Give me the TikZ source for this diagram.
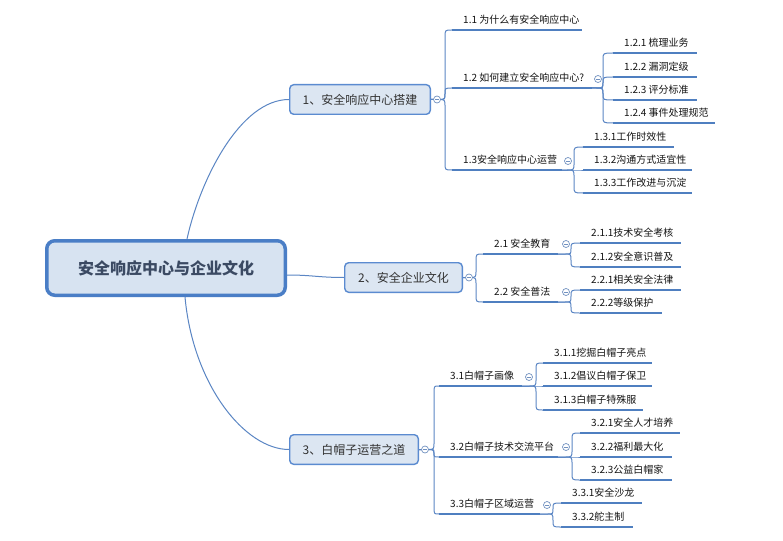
\documentclass[tikz,border=0pt]{standalone}
\usepackage{fontspec}
\setmainfont{Noto Sans CJK SC}
\usetikzlibrary{calc}
\pgfdeclarelayer{bg}
\pgfdeclarelayer{paper}
\pgfsetlayers{paper,bg,main}
\definecolor{lineblue}{HTML}{4F7FC0}
\definecolor{connblue}{HTML}{5B86C4}
\definecolor{boxfill}{HTML}{DCE6F2}
\definecolor{boxdraw}{HTML}{5B8BD0}
\definecolor{rootdraw}{HTML}{4A7EC6}
\definecolor{rootfill}{HTML}{D7E3F1}
\definecolor{roottext}{HTML}{3B4A63}
\definecolor{circdraw}{HTML}{7191C0}
\definecolor{leaftext}{HTML}{141414}
\newcommand\leaf[5]{%
  \node[leaf] (#1) at (#2,#3) {#5};
  \draw[uline] (#1.south west) -- ++(#4,0) coordinate (#1-e);}
\newcommand\fold[3]{%
  \node[fold] (#1) at (#2,#3) {};
  \draw[draw=circdraw, line width=0.7pt] ($(#1)+(-1.8,0)$) -- ($(#1)+(1.8,0)$);}
\begin{document}
\begin{tikzpicture}[x=1pt,y=-1pt,
  leaf/.style={anchor=south west, inner xsep=11pt, inner ysep=3pt, text height=8pt, text depth=3pt,
    font=\fontsize{10}{12}\selectfont, text=leaftext},
  uline/.style={draw=lineblue, line width=2.7pt},
  conn/.style={draw=connblue, line width=1pt},
  lvl/.style={draw=boxdraw, fill=boxfill, line width=1.4pt, rounded corners=4pt, minimum height=29.6pt,
    inner sep=0pt, font=\fontsize{12}{14}\selectfont, text=black!80},
  rootbox/.style={draw=rootdraw, fill=rootfill, line width=3.5pt, rounded corners=8pt,
    minimum width=238.5pt, minimum height=54.5pt, inner sep=0pt,
    font=\fontsize{16}{18}\selectfont\bfseries, text=roottext},
  fold/.style={circle, draw=circdraw, fill=white, line width=0.7pt, minimum size=7pt, inner sep=0pt},
  elbow/.style={to path={let \p1=(\tikztostart), \p2=(\tikztotarget),
     \n1={ifthenelse(\y2>\y1,1,-1)*min(7,abs(\y2-\y1)/2)}, \n2={abs(\n1)} in
     (\p1) -- (\x1+#1-\n2,\y1) .. controls (\x1+#1,\y1) .. (\x1+#1,\y1+\n1)
     -- (\x1+#1,\y2-\n1) .. controls (\x1+#1,\y2) .. (\p2) \tikztonodes}}]
\begin{pgfonlayer}{paper}
\fill[white] (0,0) rectangle (783,540);
\end{pgfonlayer}
\useasboundingbox (0,0) rectangle (783,540);

% leaves of branch 1
\leaf{n11}{452}{30}{130}{1.1 为什么有安全响应中心}
\leaf{n12}{452}{88}{140}{1.2 如何建立安全响应中心?}
\leaf{n13}{452}{170}{110}{1.3安全响应中心运营}
\leaf{n121}{613}{53}{84}{1.2.1 梳理业务}
\leaf{n122}{613}{77}{84}{1.2.2 漏洞定级}
\leaf{n123}{613}{100}{84}{1.2.3 评分标准}
\leaf{n124}{613}{123}{102}{1.2.4 事件处理规范}
\leaf{n131}{583}{147}{91}{1.3.1工作时效性}
\leaf{n132}{583}{170}{109}{1.3.2沟通方式适宜性}
\leaf{n133}{583}{193}{109}{1.3.3工作改进与沉淀}
% branch 2
\leaf{n21}{483}{254}{75}{2.1 安全教育}
\leaf{n22}{483}{302}{75}{2.2 安全普法}
\leaf{n211}{580}{243}{101}{2.1.1技术安全考核}
\leaf{n212}{580}{267}{101}{2.1.2安全意识普及}
\leaf{n221}{580}{290}{101}{2.2.1相关安全法律}
\leaf{n222}{580}{313}{82}{2.2.2等级保护}
% branch 3
\leaf{n31}{439}{386}{83}{3.1白帽子画像}
\leaf{n32}{439}{457}{119}{3.2白帽子技术交流平台}
\leaf{n33}{439}{514}{101}{3.3白帽子区域运营}
\leaf{n311}{543}{363}{109}{3.1.1挖掘白帽子亮点}
\leaf{n312}{543}{386}{109}{3.1.2倡议白帽子保卫}
\leaf{n313}{543}{410}{100}{3.1.3白帽子特殊服}
\leaf{n321}{580}{433}{100}{3.2.1安全人才培养}
\leaf{n322}{580}{457}{92}{3.2.2福利最大化}
\leaf{n323}{580}{480}{92}{3.2.3公益白帽家}
\leaf{n331}{561}{503}{81}{3.3.1安全沙龙}
\leaf{n332}{561}{527}{72}{3.3.2舵主制}

% main boxes
\node[rootbox] (root) at (166,268) {安全响应中心与企业文化};
\node[lvl, minimum width=140.6pt] (n1) at (360,99.5) {1、安全响应中心搭建};
\node[lvl, minimum width=117.6pt] (n2) at (403.5,277.5) {2、安全企业文化};
\node[lvl, minimum width=128.6pt] (n3) at (354,449.5) {3、白帽子运营之道};

% connectors
\begin{pgfonlayer}{bg}
\draw[conn] ($(root.north)+(21,0)$) .. controls +(13,-59) and +(-49,0) .. (n1.west);
\draw[conn] ($(root.east)+(0,7)$) .. controls +(25,0) and +(-25,0) .. (n2.west);
\draw[conn] ($(root.south)+(19,0)$) .. controls +(8,88) and +(-44,0) .. (n3.west);
\foreach \t in {n11,n12,n13} \draw[conn] (n1.east) to[elbow=14] (\t.south west);
\foreach \t in {n21,n22} \draw[conn] (n2.east) to[elbow=13] (\t.south west);
\foreach \t in {n31,n32,n33} \draw[conn] (n3.east) to[elbow=15] (\t.south west);
\foreach \t in {n121,n122,n123,n124} \draw[conn] (n12-e) to[elbow=11] (\t.south west);
\foreach \t in {n131,n132,n133} \draw[conn] (n13-e) to[elbow=12] (\t.south west);
\foreach \t in {n211,n212} \draw[conn] (n21-e) to[elbow=13] (\t.south west);
\foreach \t in {n221,n222} \draw[conn] (n22-e) to[elbow=13] (\t.south west);
\foreach \t in {n311,n312,n313} \draw[conn] (n31-e) to[elbow=14] (\t.south west);
\foreach \t in {n321,n322,n323} \draw[conn] (n32-e) to[elbow=14] (\t.south west);
\foreach \t in {n331,n332} \draw[conn] (n33-e) to[elbow=13] (\t.south west);
\end{pgfonlayer}

% fold markers
\fold{f1}{437}{99.5}
\fold{f2}{469}{277.5}
\fold{f3}{425}{449.5}
\fold{f12}{598}{79}
\fold{f13}{568}{161}
\fold{f21}{566}{244}
\fold{f22}{566}{292}
\fold{f31}{529}{377}
\fold{f32}{566}{447}
\fold{f33}{547}{505}
\end{tikzpicture}
\end{document}
